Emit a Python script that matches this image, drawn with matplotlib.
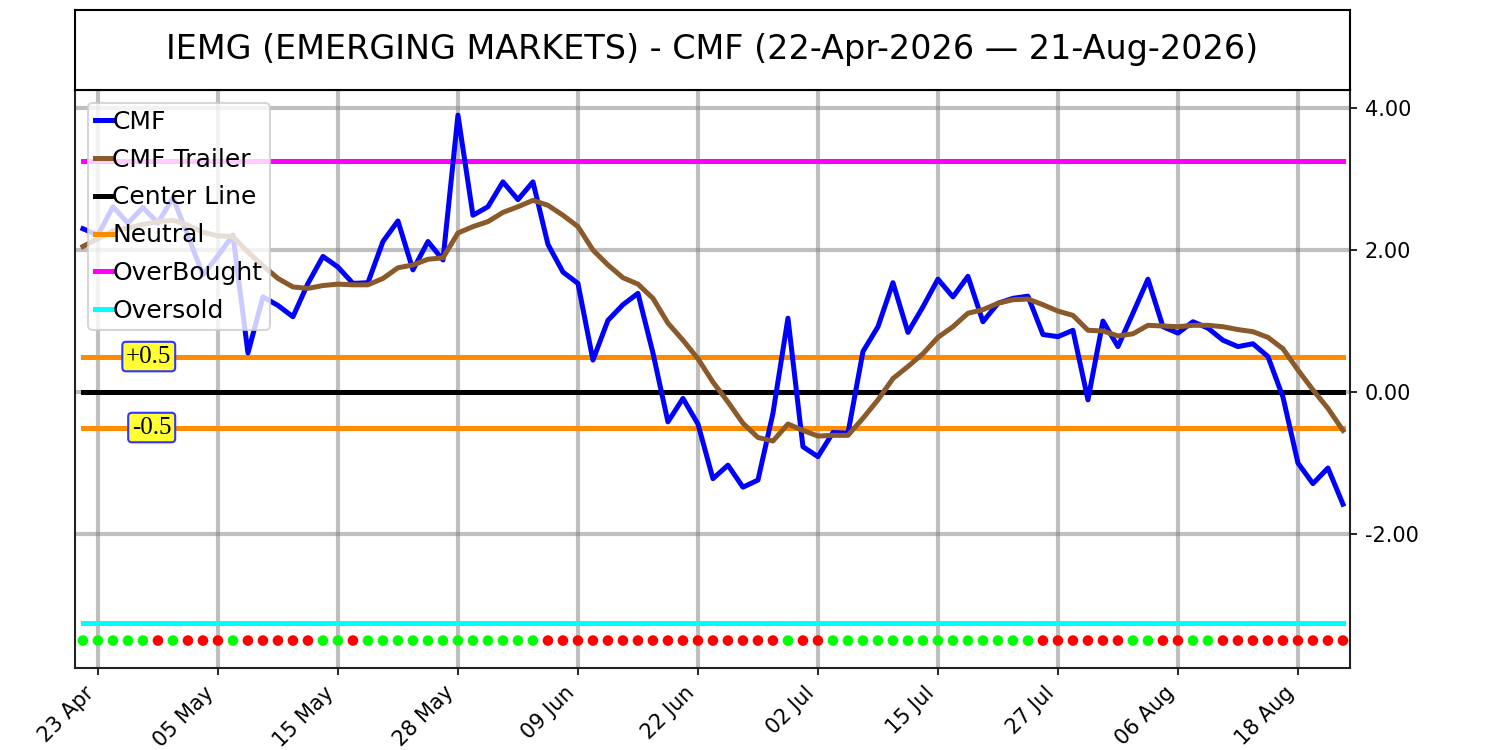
import matplotlib
matplotlib.use("Agg")
import matplotlib.pyplot as plt
import pandas as pd
import numpy as np

# ---- data ----
holidays = ["2026-05-25", "2026-06-19", "2026-07-03"]
dates = pd.bdate_range("2026-04-22", "2026-08-21", freq="C", holidays=holidays)

cmf = [2.30, 2.21, 2.61, 2.38, 2.60, 2.38, 2.74, 2.20, 1.65, 1.92,
       2.21, 0.55, 1.34, 1.22, 1.06, 1.53, 1.91, 1.76, 1.53, 1.54,
       2.12, 2.41, 1.72, 2.12, 1.86, 3.90, 2.49, 2.61, 2.96, 2.71,
       2.96, 2.08, 1.69, 1.53, 0.45, 1.01, 1.23, 1.39, 0.55, -0.42,
       -0.09, -0.45, -1.22, -1.03, -1.34, -1.24, -0.30, 1.04, -0.77, -0.91,
       -0.57, -0.58, 0.57, 0.92, 1.54, 0.84, 1.20, 1.59, 1.34, 1.63,
       0.99, 1.25, 1.32, 1.35, 0.81, 0.78, 0.87, -0.11, 1.00, 0.64,
       1.11, 1.59, 0.92, 0.83, 0.99, 0.90, 0.73, 0.64, 0.68, 0.50,
       -0.07, -1.00, -1.29, -1.07, -1.58]

trailer = [2.05, 2.16, 2.27, 2.31, 2.36, 2.40, 2.42, 2.35, 2.25, 2.20,
           2.19, 1.97, 1.78, 1.60, 1.48, 1.46, 1.50, 1.52, 1.51, 1.51,
           1.60, 1.75, 1.79, 1.87, 1.89, 2.24, 2.33, 2.40, 2.53, 2.61,
           2.70, 2.63, 2.49, 2.33, 2.00, 1.79, 1.61, 1.52, 1.32, 0.97,
           0.73, 0.47, 0.14, -0.14, -0.44, -0.64, -0.69, -0.45, -0.54, -0.62,
           -0.61, -0.61, -0.37, -0.11, 0.19, 0.36, 0.54, 0.77, 0.92, 1.11,
           1.16, 1.25, 1.30, 1.31, 1.23, 1.14, 1.08, 0.87, 0.86, 0.79,
           0.82, 0.94, 0.93, 0.92, 0.94, 0.94, 0.92, 0.88, 0.85, 0.77,
           0.61, 0.31, 0.03, -0.23, -0.54]

# signal per day: 1 = green, 0 = red
signal = [1, 1, 1, 1, 1, 0, 1, 0, 0, 0,
          1, 0, 0, 0, 0, 0, 1, 1, 0, 1,
          1, 1, 1, 1, 1, 1, 1, 1, 1, 1,
          1, 0, 0, 0, 0, 0, 0, 0, 0, 0,
          0, 0, 0, 0, 0, 0, 0, 1, 0, 0,
          1, 1, 1, 1, 1, 1, 1, 1, 1, 1,
          1, 1, 1, 1, 0, 0, 0, 0, 0, 0,
          1, 1, 0, 0, 1, 1, 0, 0, 0, 0,
          0, 0, 0, 0, 0]

center_level = 0.0
neutral_levels = [0.5, -0.5]
neutral_labels = ["+0.5", "-0.5"]
overbought_level = 3.25
oversold_level = -3.25
signal_level = -3.5
yticks = [4.0, 2.0, 0.0, -2.0]
tick_every = 8
tick_start = 1

title = "IEMG (EMERGING MARKETS) - CMF (22-Apr-2026 \u2014 21-Aug-2026)"

# ---- plot ----
n = len(cmf)
x = np.arange(n)
LW = 2.4

fig = plt.figure(figsize=(10, 5), dpi=150)
ax = fig.add_axes([0.05, 0.1093, 0.85, 0.7707])
tax = fig.add_axes([0.05, 0.88, 0.85, 0.1067])

tax.set_xticks([]); tax.set_yticks([])
for s in tax.spines.values():
    s.set_color("black"); s.set_linewidth(1.0)
tax.text(0.5, 0.5, title, ha="center", va="center", fontsize=16,
         transform=tax.transAxes)

ax.plot(x, cmf, color="#0000ff", lw=LW, label="CMF", zorder=4)
ax.plot(x, trailer, color="#8b5a2b", lw=LW, label="CMF Trailer", zorder=4)
ax.plot(x, [center_level] * n, color="black", lw=LW, label="Center Line", zorder=3)
ax.plot(x, [neutral_levels[0]] * n, color="#ff8c00", lw=LW, label="Neutral", zorder=3)
ax.plot(x, [neutral_levels[1]] * n, color="#ff8c00", lw=LW, zorder=3)
ax.plot(x, [overbought_level] * n, color="#ff00ff", lw=LW, label="OverBought", zorder=3)
ax.plot(x, [oversold_level] * n, color="#00ffff", lw=LW, label="Oversold", zorder=3)

cols = ["#00ff00" if s else "#ff0000" for s in signal]
ax.scatter(x, [signal_level] * n, c=cols, s=26, zorder=5, linewidths=0)

for lvl, txt in zip(neutral_levels, neutral_labels):
    ax.text(5.9, lvl, txt, ha="right", va="center", fontsize=12,
            family=["Liberation Serif", "DejaVu Serif"], zorder=6,
            bbox=dict(boxstyle="round,pad=0.15,rounding_size=0.15",
                      fc="#ffff33", ec="#3333ff", lw=1.0))

ax.set_xlim(-0.53, 84.47)
ax.set_ylim(-3.887, 4.254)
tick_idx = list(range(tick_start, n, tick_every))
ax.set_xticks(tick_idx)
ax.set_xticklabels([dates[i].strftime("%d %b") for i in tick_idx],
                   rotation=45, ha="right", fontsize=10)
ax.yaxis.tick_right()
ax.set_yticks(yticks)
ax.set_yticklabels([f"{v:.2f}" for v in yticks], fontsize=10)
ax.grid(True, color="gray", alpha=0.5, lw=2.0, zorder=0)
ax.set_axisbelow(True)
for s in ax.spines.values():
    s.set_color("#222222"); s.set_linewidth(1.0)

ax.legend(loc="upper left", fontsize=12, handlelength=0.7, handletextpad=0.0,
          borderpad=0.3, labelspacing=0.55, framealpha=0.8)

fig.savefig("out.png", dpi=150)
